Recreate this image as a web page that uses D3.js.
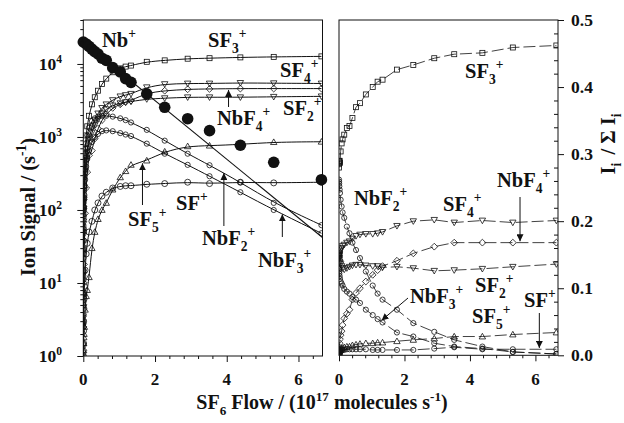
<!DOCTYPE html>
<html><head><meta charset="utf-8">
<script src="https://cdn.jsdelivr.net/npm/d3@7"></script>
<style>
html,body{margin:0;padding:0;background:#fff;}
svg{display:block;font-family:"Liberation Serif","Times New Roman",serif;font-weight:bold;}
</style></head><body>
<svg id="chart" width="624" height="423"></svg>
<script>
// ---- Ion signals (left panel, counts per second) ----
const flowL = [0.0002, 0.0005, 0.001, 0.002, 0.004, 0.007, 0.01, 0.015, 0.02, 0.03, 0.05, 0.08, 0.11, 0.16, 0.24, 0.32, 0.41, 0.52, 0.64, 0.82, 1.03, 1.18, 1.33, 1.77, 2.27, 2.91, 3.52, 4.38, 5.31, 6.64];
const sf3L  = [2.9, 7.3, 14.5, 29, 58, 100, 145, 215, 285, 420, 690, 1050, 1400, 1950, 2800, 3500, 4300, 5300, 6300, 7700, 8700, 9200, 9500, 10700, 11200, 11800, 12000, 12300, 12500, 12700];
const sf4L  = [1.4, 3.5, 7, 14, 28, 49, 70, 105, 140, 205, 340, 520, 690, 950, 1350, 1700, 2100, 2500, 2800, 3200, 3600, 3750, 3900, 4800, 5300, 5400, 5400, 5500, 5450, 5400];
const nbf4L = [null, null, null, null, 1.2, 2.5, 5, 10, 18, 38, 90, 200, 330, 560, 650, 950, 1300, 1700, 2050, 2500, 2800, 3000, 3150, 4000, 4300, 4500, 4550, 4600, 4600, 4600];
const sf2L  = [1.3, 3.3, 6.5, 13, 26, 45, 65, 97, 130, 190, 310, 470, 620, 840, 1150, 1450, 1750, 2100, 2400, 2700, 2900, 3000, 3050, 3300, 3400, 3500, 3500, 3500, 3550, 3600];
const nbf2L = [2.5, 6.3, 12.5, 25, 50, 87, 125, 185, 245, 360, 560, 820, 1050, 1350, 1650, 1800, 1900, 1950, 1950, 1900, 1800, 1700, 1580, 1250, 890, 590, 410, 240, 125, 62];
const nbf3L = [1.1, 2.8, 5.5, 11, 22, 38, 55, 82, 110, 160, 260, 390, 500, 650, 850, 1000, 1100, 1200, 1230, 1200, 1130, 1080, 1030, 810, 590, 415, 290, 175, 100, 48];
const sf5L  = [null, null, null, null, 1.0, 1.2, 1.5, 1.8, 2.0, 2.5, 4.3, 6.6, 8, 12, 30, 50, 75, 100, 125, 190, 280, 340, 415, 475, 630, 745, 760, 790, 850, 860];
const sfL   = [null, null, null, 1.0, 1.5, 2.2, 3, 4.5, 6, 9, 15, 25, 35, 50, 70, 100, 125, 155, 175, 200, 210, 215, 215, 225, 230, 240, 230, 240, 235, 240];
const nbFlow = [0, 0.08, 0.16, 0.24, 0.32, 0.41, 0.52, 0.64, 0.82, 1.03, 1.18, 1.33, 1.77, 2.27, 2.91, 3.52, 4.38, 5.31, 6.64];
const nbL    = [20000, 18800, 17400, 16000, 14800, 13700, 12000, 11200, 8900, 7800, 6300, 5600, 3900, 2550, 1780, 1220, 770, 450, 260];
const nbFitFlow = [0, 6.67];
const nbFitL    = [20000, 42];

// ---- Product ion fractions (right panel) ----
const flowR = [0.0005, 0.002, 0.005, 0.01, 0.02, 0.03, 0.05, 0.08, 0.11, 0.16, 0.24, 0.32, 0.41, 0.52, 0.64, 0.82, 1.03, 1.18, 1.33, 1.77, 2.27, 2.91, 3.52, 4.38, 5.31, 6.64];
const sf3R  = [0.28, 0.285, 0.29, 0.288, 0.29, 0.287, 0.304, 0.316, 0.322, 0.329, 0.339, 0.342, 0.354, 0.37, 0.376, 0.389, 0.40, 0.408, 0.411, 0.426, 0.433, 0.443, 0.449, 0.451, 0.459, 0.462];
const nbf2R = [0.262, 0.259, 0.256, 0.252, 0.247, 0.242, 0.232, 0.222, 0.213, 0.205, 0.192, 0.182, 0.168, 0.157, 0.145, 0.125, 0.104, 0.092, 0.083, 0.068, 0.048, 0.035, 0.023, 0.013, 0.005, 0.002];
const sf4R  = [0.145, 0.145, 0.148, 0.15, 0.152, 0.155, 0.158, 0.16, 0.163, 0.165, 0.168, 0.17, 0.174, 0.178, 0.18, 0.181, 0.181, 0.182, 0.184, 0.193, 0.2, 0.202, 0.198, 0.201, 0.198, 0.201];
const sf2R  = [0.15, 0.148, 0.145, 0.143, 0.14, 0.138, 0.136, 0.133, 0.13, 0.128, 0.13, 0.132, 0.134, 0.135, 0.135, 0.134, 0.133, 0.133, 0.131, 0.132, 0.13, 0.126, 0.127, 0.129, 0.132, 0.136];
const nbf3R = [0.13, 0.128, 0.125, 0.122, 0.118, 0.114, 0.11, 0.107, 0.104, 0.099, 0.095, 0.092, 0.087, 0.083, 0.078, 0.068, 0.06, 0.054, 0.049, 0.034, 0.028, 0.018, 0.013, 0.01, 0.005, 0.002];
const nbf4R = [0.002, 0.004, 0.008, 0.012, 0.018, 0.024, 0.03, 0.036, 0.045, 0.055, 0.062, 0.068, 0.083, 0.093, 0.1, 0.11, 0.12, 0.127, 0.133, 0.141, 0.152, 0.162, 0.168, 0.168, 0.168, 0.168];
const sf5R  = [0.003, 0.004, 0.005, 0.006, 0.007, 0.008, 0.009, 0.01, 0.011, 0.012, 0.013, 0.013, 0.015, 0.016, 0.017, 0.018, 0.018, 0.019, 0.019, 0.021, 0.023, 0.025, 0.028, 0.028, 0.031, 0.034];
const sfR   = [0.005, 0.005, 0.006, 0.006, 0.006, 0.007, 0.007, 0.007, 0.008, 0.008, 0.009, 0.009, 0.009, 0.009, 0.009, 0.009, 0.008, 0.008, 0.008, 0.008, 0.008, 0.010, 0.012, 0.009, 0.009, 0.009];

// ---- Axis ticks ----
const xTicks = [0, 2, 4, 6];
const yTicksL = [1, 10, 100, 1000, 10000];
const yExpL = ["0", "1", "2", "3", "4"];
const yTicksR = [0, 0.1, 0.2, 0.3, 0.4, 0.5];
const yLabR = ["0.0", "0.1", "0.2", "0.3", "0.4", "0.5"];

const svg = d3.select("#chart");
const ink = "#111";

const xL = d3.scaleLinear().domain([0, 6.67]).range([83.3, 322.5]);
const yL = d3.scaleLog().domain([1, 40000]).range([356, 20]);
const xR = d3.scaleLinear().domain([0, 6.69]).range([339, 558]);
const yR = d3.scaleLinear().domain([0, 0.5]).range([355.3, 20]);

// text with sub/superscripts: parts = [[text, "n"|"sub"|"sup", dx]]
function rich(g, x, y, parts, size, anchor, rot) {
  const t = g.append("text").attr("x", x).attr("y", y)
    .attr("font-size", size).attr("text-anchor", anchor || "start").attr("fill", ink);
  if (rot) t.attr("transform", `rotate(${rot},${x},${y})`);
  let off = 0;
  parts.forEach(([txt, kind, dx]) => {
    const target = kind === "sup" ? -size * 0.42 : kind === "sub" ? size * 0.3 : 0;
    const ts = t.append("tspan").text(txt).attr("dy", target - off);
    if (kind !== "n") ts.attr("font-size", size * 0.66);
    if (dx) ts.attr("dx", dx);
    off = target;
  });
  return t;
}

// marker shapes
const shapes = {
  square: g => g.append("rect").attr("x", -2.5).attr("y", -2.5).attr("width", 5).attr("height", 5),
  tdown: g => g.append("path").attr("d", "M-3.2,-2.4L3.2,-2.4L0,3.2Z"),
  tup: g => g.append("path").attr("d", "M-3.2,2.4L3.2,2.4L0,-3.2Z"),
  diamond: g => g.append("path").attr("d", "M0,-3.4L3.4,0L0,3.4L-3.4,0Z"),
  circle: g => g.append("circle").attr("r", 2.6),
  bigcircle: g => g.append("circle").attr("r", 3.0)
};

function drawMarkers(g, pts, shape, x, y) {
  pts.forEach(p => {
    const m = g.append("g").attr("transform", `translate(${x(p[0])},${y(p[1])})`)
      .attr("fill", "none").attr("stroke", ink).attr("stroke-width", 0.8);
    shapes[shape](m);
  });
}

function pairs(fl, vals, min) {
  return fl.map((f, i) => [f, vals[i]]).filter(p => p[1] != null && p[1] >= min);
}

// ---------- LEFT PANEL ----------
const gl = svg.append("g");
svg.append("clipPath").attr("id", "clipL").append("rect")
  .attr("x", 83.3).attr("y", 20).attr("width", 239.2).attr("height", 336);

const seriesL = [
  { v: sf3L, shape: "square" },
  { v: sf4L, shape: "tdown" },
  { v: nbf4L, shape: "diamond" },
  { v: sf2L, shape: "tdown" },
  { v: nbf2L, shape: "circle" },
  { v: nbf3L, shape: "circle" },
  { v: sf5L, shape: "tup" },
  { v: sfL, shape: "bigcircle" }
];
const lineL = d3.line().x(d => xL(d[0])).y(d => yL(d[1])).curve(d3.curveBasis);
const plotL = gl.append("g").attr("clip-path", "url(#clipL)");
seriesL.forEach(s => {
  plotL.append("path").datum(pairs(flowL, s.v, 1)).attr("d", lineL)
    .attr("fill", "none").attr("stroke", ink).attr("stroke-width", 1);
});
plotL.append("path").datum(nbFitFlow.map((f, i) => [f, nbFitL[i]]))
  .attr("d", d3.line().x(d => xL(d[0])).y(d => yL(d[1])))
  .attr("fill", "none").attr("stroke", ink).attr("stroke-width", 1.1);
seriesL.forEach(s => drawMarkers(plotL, pairs(flowL, s.v, 1), s.shape, xL, yL));
nbFlow.forEach((f, i) => {
  gl.append("circle").attr("cx", xL(f)).attr("cy", yL(nbL[i])).attr("r", 5.8).attr("fill", ink);
});

// frame and axes
gl.append("rect").attr("x", 83.3).attr("y", 20).attr("width", 239.2).attr("height", 336)
  .attr("fill", "none").attr("stroke", ink).attr("stroke-width", 1);
const axXL = gl.append("g").attr("transform", "translate(0,356)")
  .call(d3.axisBottom(xL).tickValues(xTicks).tickSize(6).tickFormat(""));
const axXLm = gl.append("g").attr("transform", "translate(0,356)")
  .call(d3.axisBottom(xL).tickValues(d3.range(0.4, 6.6, 0.4).filter(v => Math.abs(v / 2 - Math.round(v / 2)) > 0.01)).tickSize(3).tickFormat(""));
const axYL = gl.append("g").attr("transform", "translate(83.3,0)")
  .call(d3.axisLeft(yL).tickValues(yTicksL).tickSize(6).tickFormat(""));
const minorLog = [];
[1, 10, 100, 1000, 10000].forEach(d => { for (let k = 2; k <= 9; k++) if (d * k <= 40000) minorLog.push(d * k); });
const axYLm = gl.append("g").attr("transform", "translate(83.3,0)")
  .call(d3.axisLeft(yL).tickValues(minorLog).tickSize(3).tickFormat(""));
[axXL, axXLm, axYL, axYLm].forEach(a => {
  a.select(".domain").remove();
  a.selectAll("line").attr("stroke", ink);
});
xTicks.forEach(t => gl.append("text").attr("x", xL(t)).attr("y", 385).attr("text-anchor", "middle")
  .attr("font-size", 17).attr("fill", ink).text(t));
yTicksL.forEach((t, i) => rich(gl, 62, yL(t) + 6, [["10", "n"], [yExpL[i], "sup"]], 17.5, "end"));

// ---------- RIGHT PANEL ----------
const gr = svg.append("g");
svg.append("clipPath").attr("id", "clipR").append("rect")
  .attr("x", 339).attr("y", 20).attr("width", 219).attr("height", 335.3);
const seriesR = [
  { v: sf3R, shape: "square" },
  { v: nbf2R, shape: "circle" },
  { v: sf4R, shape: "tdown" },
  { v: sf2R, shape: "tdown" },
  { v: nbf3R, shape: "circle" },
  { v: nbf4R, shape: "diamond" },
  { v: sf5R, shape: "tup" },
  { v: sfR, shape: "circle" }
];
const lineR = d3.line().x(d => xR(d[0])).y(d => yR(d[1]));
const plotR = gr.append("g").attr("clip-path", "url(#clipR)");
seriesR.forEach(s => {
  plotR.append("path").datum(pairs(flowR, s.v, 0)).attr("d", lineR)
    .attr("fill", "none").attr("stroke", ink).attr("stroke-width", 0.8)
    .attr("stroke-dasharray", "12,4");
});
seriesR.forEach(s => drawMarkers(plotR, pairs(flowR, s.v, 0), s.shape, xR, yR));

gr.append("rect").attr("x", 339).attr("y", 20).attr("width", 219).attr("height", 335.3)
  .attr("fill", "none").attr("stroke", ink).attr("stroke-width", 1);
const axXR = gr.append("g").attr("transform", "translate(0,355.3)")
  .call(d3.axisBottom(xR).tickValues(xTicks).tickSize(6).tickFormat(""));
const axXRm = gr.append("g").attr("transform", "translate(0,355.3)")
  .call(d3.axisBottom(xR).tickValues(d3.range(0.4, 6.6, 0.4).filter(v => Math.abs(v / 2 - Math.round(v / 2)) > 0.01)).tickSize(3).tickFormat(""));
const axYR = gr.append("g").attr("transform", "translate(558,0)")
  .call(d3.axisRight(yR).tickValues(yTicksR).tickSize(6).tickFormat(""));
const axYRm = gr.append("g").attr("transform", "translate(558,0)")
  .call(d3.axisRight(yR).tickValues(d3.range(0.02, 0.5, 0.02).filter(v => Math.abs(v * 10 - Math.round(v * 10)) > 0.01)).tickSize(-4).tickFormat(""));
[axXR, axXRm, axYR, axYRm].forEach(a => {
  a.select(".domain").remove();
  a.selectAll("line").attr("stroke", ink);
});
xTicks.forEach(t => gr.append("text").attr("x", xR(t)).attr("y", 385).attr("text-anchor", "middle")
  .attr("font-size", 17).attr("fill", ink).text(t));
yTicksR.forEach((t, i) => gr.append("text").attr("x", 571).attr("y", yR(t) + 6)
  .attr("font-size", 17.5).attr("fill", ink).text(yLabR[i]));

// ---------- arrows ----------
const defs = svg.append("defs");
defs.append("marker").attr("id", "ah").attr("viewBox", "0 0 10 10").attr("refX", 10).attr("refY", 5)
  .attr("markerWidth", 7).attr("markerHeight", 7).attr("markerUnits", "userSpaceOnUse").attr("orient", "auto")
  .append("path").attr("d", "M0,0L10,5L0,10Z").attr("fill", ink);
function arrow(x1, y1, x2, y2) {
  svg.append("line").attr("x1", x1).attr("y1", y1).attr("x2", x2).attr("y2", y2)
    .attr("stroke", ink).attr("stroke-width", 1).attr("marker-end", "url(#ah)");
}
arrow(xL(4.05), 107, xL(4.05), yL(4550) + 1);
arrow(xL(1.65), 205, xL(1.65), yL(450) + 1);
arrow(xL(3.92), 226, xL(3.92), yL(330) + 1);
arrow(xL(5.55), 237, xL(5.55), yL(90) + 1);
arrow(408, 298, xR(1.3), yR(0.052));
arrow(xR(6.12), 313, xR(6.12), yR(0.011));
arrow(xR(5.53), 197, xR(5.53), yR(0.17));

// ---------- species labels ----------
const LS = 20.5;
const labels = [
  [102, 47, [["Nb", "n"], ["+", "sup"]]],
  [208, 47, [["SF", "n"], ["3", "sub"], ["+", "sup"]]],
  [280, 77, [["SF", "n"], ["4", "sub"], ["+", "sup"]]],
  [217, 125, [["NbF", "n"], ["4", "sub"], ["+", "sup"]]],
  [283, 115, [["SF", "n"], ["2", "sub"], ["+", "sup"]]],
  [176, 210, [["SF", "n"], ["+", "sup"]]],
  [128, 226, [["SF", "n"], ["5", "sub"], ["+", "sup"]]],
  [202, 245, [["NbF", "n"], ["2", "sub"], ["+", "sup"]]],
  [258, 267, [["NbF", "n"], ["3", "sub"], ["+", "sup"]]],
  [465, 78, [["SF", "n"], ["3", "sub"], ["+", "sup"]]],
  [354, 205, [["NbF", "n"], ["2", "sub"], ["+", "sup"]]],
  [443, 211, [["SF", "n"], ["4", "sub"], ["+", "sup"]]],
  [497, 187, [["NbF", "n"], ["4", "sub"], ["+", "sup"]]],
  [410, 303, [["NbF", "n"], ["3", "sub"], ["+", "sup"]]],
  [475, 292, [["SF", "n"], ["2", "sub"], ["+", "sup"]]],
  [472, 323, [["SF", "n"], ["5", "sub"], ["+", "sup"]]],
  [524, 307, [["SF", "n"], ["+", "sup"]]]
];
labels.forEach(([x, y, p]) => rich(svg, x, y, p, LS));

// ---------- axis titles ----------
rich(svg, 35, 207, [["Ion Signal / (s", "n"], ["-1", "sup"], [")", "n"]], 20.5, "middle", -90);
rich(svg, 322, 409, [["SF", "n"], ["6", "sub"], [" Flow / (10", "n"], ["17", "sup"], [" molecules s", "n"], ["-1", "sup"], [")", "n"]], 20, "middle");
rich(svg, 615, 144, [["I", "n"], ["i", "sub"], ["  /  \u03A3 I", "n", 3], ["i", "sub"]], 20.5, "middle", -90);
</script></body></html>
